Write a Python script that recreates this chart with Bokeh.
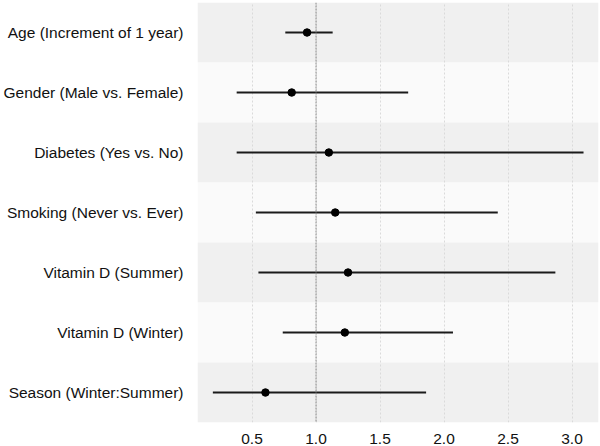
from bokeh.plotting import figure
from bokeh.models import FactorRange, Span, FixedTicker, NumeralTickFormatter, ColumnDataSource
from bokeh.embed import file_html
from bokeh.resources import INLINE

# Data
variables = [
    "Age (Increment of 1 year)",
    "Gender (Male vs. Female)",
    "Diabetes (Yes vs. No)",
    "Smoking (Never vs. Ever)",
    "Vitamin D (Summer)",
    "Vitamin D (Winter)",
    "Season (Winter:Summer)",
]
estimate = [0.93, 0.81, 1.10, 1.15, 1.25, 1.225, 0.605]
lower = [0.76, 0.38, 0.38, 0.53, 0.55, 0.74, 0.194]
upper = [1.13, 1.72, 3.09, 2.42, 2.87, 2.07, 1.86]
x_ticks = [0.5, 1.0, 1.5, 2.0, 2.5, 3.0]
x_min, x_max = 0.074, 3.207
band_colors = ["#f0f0f0" if i % 2 == 0 else "#fafafa" for i in range(len(variables))]

source = ColumnDataSource(dict(var=variables, est=estimate, lo=lower, hi=upper,
                               band=band_colors,
                               bl=[x_min] * len(variables), br=[x_max] * len(variables)))

p = figure(
    y_range=FactorRange(factors=list(reversed(variables))),
    x_range=(x_min, x_max),
    frame_width=401, frame_height=420,
    min_border_left=189, min_border_right=2, min_border_top=0, min_border_bottom=0,
    output_backend="svg", toolbar_location=None,
    background_fill_color="white", border_fill_color="white",
    margin=(2, 0, 0, 0),
)
p.outline_line_color = None

# alternating row bands
bands = p.hbar(y="var", left="bl", right="br", height=1, fill_color="band", line_color=None, source=source)
bands.level = "image"

# grid
p.ygrid.visible = False
p.xgrid.ticker = FixedTicker(ticks=x_ticks)
p.xgrid.grid_line_color = "#dadada"
p.xgrid.grid_line_dash = "2 2"
p.xgrid.grid_line_width = 1

# reference line at 1
p.add_layout(Span(location=1.0, dimension="height", line_color="#8c8c8c", line_dash="2 1", line_width=1))

# confidence intervals and points
p.segment(x0="lo", x1="hi", y0="var", y1="var", line_color="#1a1a1a", line_width=2, source=source)
p.scatter(x="est", y="var", size=7.5, fill_color="black", line_color="black", source=source)

# axes
for ax in (p.xaxis[0], p.yaxis[0]):
    ax.axis_line_color = None
    ax.major_tick_line_color = None
    ax.minor_tick_line_color = None
    ax.major_tick_out = 0
    ax.major_tick_in = 0
    ax.major_label_text_font = "Liberation Sans"
    ax.major_label_text_font_size = "15.5px"
    ax.major_label_text_color = "#111111"

p.xaxis.ticker = FixedTicker(ticks=x_ticks)
p.xaxis.formatter = NumeralTickFormatter(format="0.0")
p.xaxis.major_label_standoff = 11
p.yaxis.major_label_standoff = 14

open("out.html", "w").write(file_html(p, INLINE))
